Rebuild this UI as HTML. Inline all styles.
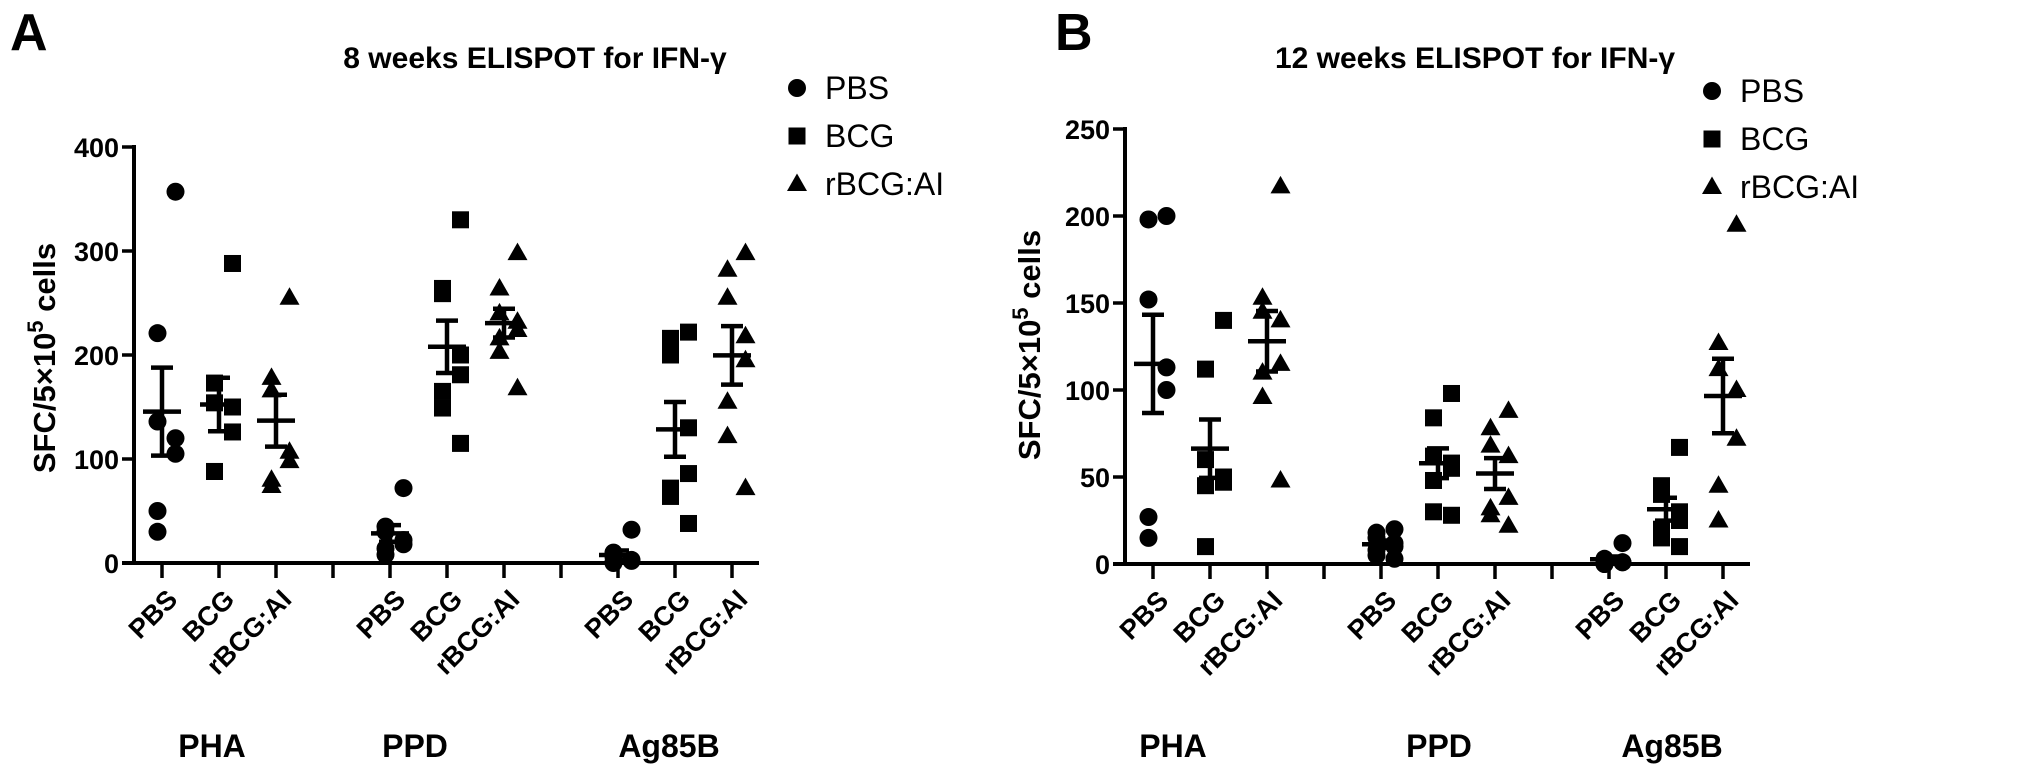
<!DOCTYPE html>
<html><head><meta charset="utf-8"><style>
html,body{margin:0;padding:0;background:#fff;}
svg{display:block;font-family:"Liberation Sans",Arial,sans-serif;}
</style></head><body>
<svg id="chart" width="2031" height="777" viewBox="0 0 2031 777" xmlns="http://www.w3.org/2000/svg"></svg>
<script>
const groups = ["PHA","PPD","Ag85B"];
const treatments = ["PBS","BCG","rBCG:AI"];
const ticksA = [0,100,200,300,400];
const ticksB = [0,50,100,150,200,250];
// Panel A (8 weeks) values
const a_PHA_PBS = [357,221,136,120,105,50,30];
const a_PHA_BCG = [288,173,154,150,126,88,88];
const a_PHA_rBCG = [255,178,166,107,98,80,74];
const a_PPD_PBS = [72,35,30,22,18,14,8];
const a_PPD_BCG = [330,264,259,200,181,165,149,115];
const a_PPD_rBCG = [298,264,240,232,224,216,203,168];
const a_Ag_PBS = [32,10,6,3,2,1,0];
const a_Ag_BCG = [222,216,200,130,86,72,64,38];
const a_Ag_rBCG = [298,282,255,218,195,155,122,72];
// Panel B (12 weeks)
const b_PHA_PBS = [200,198,152,113,100,27,15];
const b_PHA_BCG = [140,112,60,50,47,45,10];
const b_PHA_rBCG = [217,153,145,140,115,110,96,48];
const b_PPD_PBS = [20,18,15,12,10,8,5,3];
const b_PPD_BCG = [98,84,62,58,55,48,30,28];
const b_PPD_rBCG = [88,78,68,62,38,32,28,22];
const b_Ag_PBS = [12,3,2,1,1,0,0];
const b_Ag_BCG = [67,45,40,30,25,20,15,10];
const b_Ag_rBCG = [195,127,112,100,72,45,25];

const dataA = [[a_PHA_PBS,a_PHA_BCG,a_PHA_rBCG],[a_PPD_PBS,a_PPD_BCG,a_PPD_rBCG],[a_Ag_PBS,a_Ag_BCG,a_Ag_rBCG]];
const dataB = [[b_PHA_PBS,b_PHA_BCG,b_PHA_rBCG],[b_PPD_PBS,b_PPD_BCG,b_PPD_rBCG],[b_Ag_PBS,b_Ag_BCG,b_Ag_rBCG]];

const NS="http://www.w3.org/2000/svg";
const svg=document.getElementById('chart');
function mk(tag,attrs,parent){const e=document.createElementNS(NS,tag);for(const k in attrs)e.setAttribute(k,attrs[k]);(parent||svg).appendChild(e);return e;}

function marker(g,type,x,y){
  let e;
  if(type===0){e=mk('circle',{cx:x,cy:y,r:9,fill:'#000'},g);}
  else if(type===1){e=mk('rect',{x:x-8.5,y:y-8.5,width:17,height:17,fill:'#000'},g);}
  else {e=mk('polygon',{points:`${x},${y-10.5} ${x+10},${y+7} ${x-10},${y+7}`,fill:'#000'},g);}
  return e;
}

function panel(cfg){
  const P=mk('g',{});
  
  
  const ax=cfg.ax, y0=cfg.y0, ppu=cfg.ppu, xend=ax+625;
  const Y=v=>y0-v*ppu;
  const X=(gi,ti)=>ax+28+57*(gi*4+ti);
  const L=mk('text',{x:cfg.letterX,y:50,'font-size':52,'font-weight':'bold'},P);L.textContent=cfg.letter;
  
  const T=mk('text',{x:cfg.titleX,y:68,'font-size':30,'font-weight':'bold','text-anchor':'middle'},P);T.textContent=cfg.title;
  
  const yA=mk('line',{x1:ax,y1:Y(cfg.ticks[cfg.ticks.length-1])-2,x2:ax,y2:y0+2,stroke:'#000','stroke-width':4},P);
  
  const xA=mk('line',{x1:ax-12,y1:y0,x2:xend,y2:y0,stroke:'#000','stroke-width':4},P);
  
  cfg.ticks.forEach(t=>{
    mk('line',{x1:ax-12,y1:Y(t),x2:ax,y2:Y(t),stroke:'#000','stroke-width':3.5},P);
    const tl=mk('text',{x:ax-15,y:Y(t)+10,'font-size':27,'font-weight':'bold','text-anchor':'end'},P);tl.textContent=t;
    
  });
  for(let k=0;k<11;k++){const x=ax+28+57*k;mk('line',{x1:x,y1:y0,x2:x,y2:y0+15,stroke:'#000','stroke-width':3.5},P);}
  const yt=mk('text',{transform:`translate(${cfg.ytX},${cfg.ytY}) rotate(-90)`,'font-size':31,'font-weight':'bold','text-anchor':'middle'},P);
  yt.innerHTML='SFC/5×10<tspan dy="-12" font-size="22">5</tspan><tspan dy="12"> cells</tspan>';
  
  groups.forEach((gname,gi)=>{
    treatments.forEach((tn,ti)=>{
      const x=X(gi,ti);
      const cl=mk('text',{transform:`translate(${x+17},${y0+38}) rotate(-45)`,'font-size':27,'font-weight':'bold','text-anchor':'end'},P);cl.textContent=tn;
      
      const vals=cfg.data[gi][ti];
      const g=mk('g',{},P);
      
      
      const n=vals.length;
      vals.forEach((v,i)=>{
        const off=((i%4)-1.5)*9*(i%2?1:-1);
        const m=marker(g,ti,x+off,Y(v));
        
        
      });
      const mean=vals.reduce((s,v)=>s+v,0)/n;
      const sd=Math.sqrt(vals.reduce((s,v)=>s+(v-mean)*(v-mean),0)/(n-1));
      const sem=sd/Math.sqrt(n);
      const ml=mk('line',{x1:x-19,y1:Y(mean),x2:x+19,y2:Y(mean),stroke:'#000','stroke-width':4.5},g);
      
      const eb=mk('path',{d:`M${x},${Y(mean+sem)}V${Y(Math.max(0,mean-sem))}M${x-11},${Y(mean+sem)}H${x+11}M${x-11},${Y(Math.max(0,mean-sem))}H${x+11}`,stroke:'#000','stroke-width':4.5,fill:'none'},g);
      
    });
  });
  cfg.groupX.forEach((gx,gi)=>{
    const gl=mk('text',{x:ax+gx,y:757,'font-size':32,'font-weight':'bold','text-anchor':'middle'},P);gl.textContent=groups[gi];
    
  });
  const lg=mk('g',{},P);
  
  treatments.forEach((tn,i)=>{
    const yy=cfg.legY+i*48;
    const m=marker(lg,i,cfg.legX,yy);
    
    const t=mk('text',{x:cfg.legX+28,y:yy+11,'font-size':32},lg);t.textContent=tn;
    
  });
}
panel({id:'week8',letter:'A',letterX:10,title:'8  weeks ELISPOT for IFN-γ',titleX:535,ax:134,y0:563,ppu:1.04,ticks:ticksA,data:dataA,ytX:55,ytY:358,legX:797,legY:88,groupX:[78,281,535]});
panel({id:'week12',letter:'B',letterX:1055,title:'12  weeks ELISPOT for IFN-γ',titleX:1475,ax:1125,y0:564,ppu:1.74,ticks:ticksB,data:dataB,ytX:1040,ytY:345,legX:1712,legY:91,groupX:[48,314,547]});
</script>
</body></html>
